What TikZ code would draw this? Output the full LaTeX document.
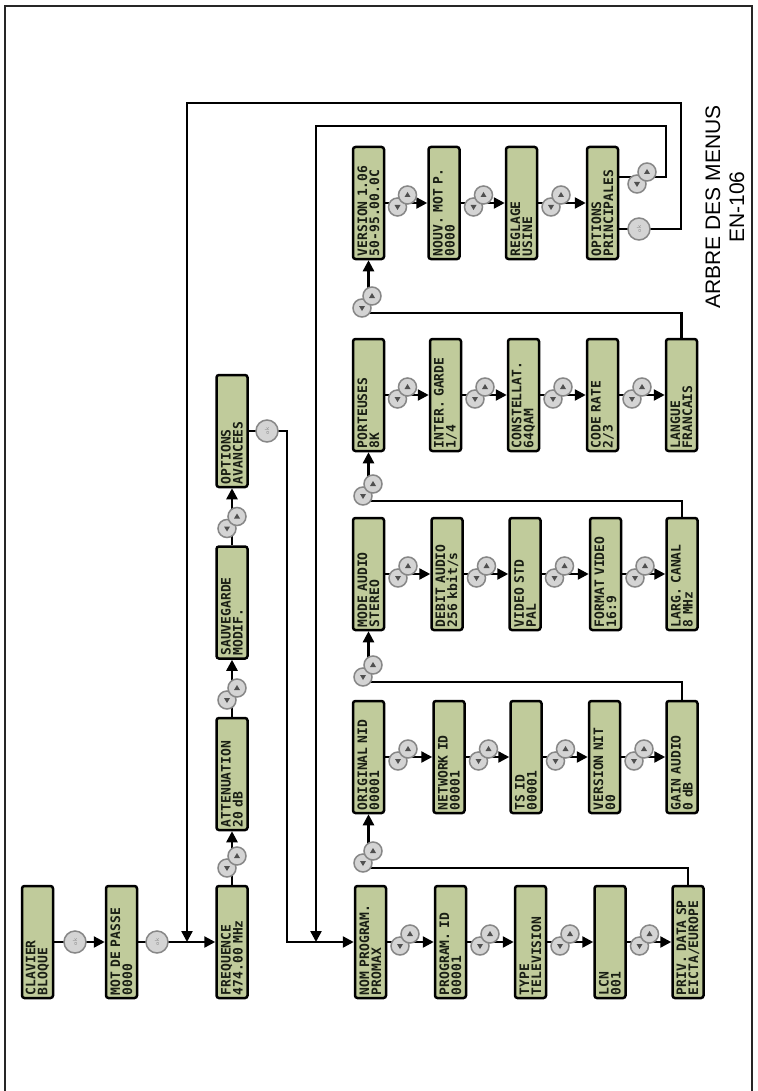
\documentclass[tikz,border=0pt]{standalone}
\usepackage{fontspec}
\usetikzlibrary{arrows.meta}
\newfontfamily\lcdfont{DejaVu Sans Mono}
\newfontfamily\titlefont{Liberation Sans}
\definecolor{lcdgreen}{RGB}{192,203,155}
\definecolor{btnfill}{RGB}{212,212,212}
\definecolor{btnedge}{RGB}{135,135,135}
\definecolor{trigray}{RGB}{80,80,80}
\definecolor{lcdtext}{RGB}{25,30,20}
\newcommand\bpair[3]{%
  \node[btn] (#1d) at (#2,#3) {};
  \fill[tri] ([shift={(-3,-2)}]#1d.center) -- ([shift={(3,-2)}]#1d.center) -- ([shift={(0,3)}]#1d.center) -- cycle;
  \node[btn] (#1u) at ({#2+10},{#3-12}) {};
  \fill[tri] ([shift={(-3,2)}]#1u.center) -- ([shift={(3,2)}]#1u.center) -- ([shift={(0,-3)}]#1u.center) -- cycle;
}
\begin{document}
\begin{tikzpicture}[x=1pt,y=-1pt,
  box/.style={rotate=90, draw=black, fill=lcdgreen, line width=2.5pt, rounded corners=2.5pt,
    minimum width=112pt, minimum height=31pt, text width=106pt, inner sep=0pt, align=left,
    text=lcdtext, font=\lcdfont\bfseries\fontsize{13}{12}\selectfont},
  btn/.style={circle, draw=btnedge, fill=btnfill, line width=1.5pt, minimum size=18pt, inner sep=0pt},
  okbtn/.style={btn, minimum size=22pt, rotate=90, font=\sffamily\fontsize{6}{6}\selectfont, text=btnedge},
  tri/.style={fill=trigray},
  conn/.style={line width=2.4pt, -{Triangle[length=11pt,width=11pt]}},
]
\useasboundingbox (0,0) rectangle (757,1091);
\clip (0,0) rectangle (757,1091);
\fill[white] (0,0) rectangle (757,1091);
\draw[line width=2.4pt, black!85] (5,1100) -- (5,6) -- (752,6) -- (752,1100);

% title
\node[rotate=90, align=center, font=\titlefont\fontsize{21}{24}\selectfont] (title) at (725,207) {ARBRE DES MENUS\\EN-106};

% main column
\node[box] (clav) at (37.5,942) {CLAVIER\\BLOQUE};
\node[box] (mot) at (121.5,942) {MOT DE PASSE\\0000};
\node[box] (freq) at (232,942) {FREQUENCE\\474.00 MHz};
\node[box] (atten) at (232,774) {ATTENUATION\\20 dB};
\node[box] (sauv) at (232,602.5) {SAUVEGARDE\\MODIF.};
\node[box] (optav) at (232,431) {OPTIONS\\AVANCEES};

% row 1
\node[box] (nom) at (370.5,942) {NOM PROGRAM.\\PROMAX};
\node[box] (prog) at (450.5,942) {PROGRAM. ID\\00001};
\node[box] (type) at (530.5,942) {TYPE\\TELEVISION};
\node[box] (lcn) at (610,942) {LCN\\001};
\node[box] (priv) at (688,942) {PRIV. DATA SP\\EICTA/EUROPE};
% row 2
\node[box] (orig) at (368.5,757) {ORIGINAL NID\\00001};
\node[box] (netid) at (449,757) {NETWORK ID\\00001};
\node[box] (tsid) at (526,757) {TS ID\\00001};
\node[box] (vnit) at (604.5,757) {VERSION NIT\\00};
\node[box] (gain) at (682,757) {GAIN AUDIO\\0 dB};
% row 3
\node[box] (mode) at (368.5,574) {MODE AUDIO\\STEREO};
\node[box] (debit) at (447,574) {DEBIT AUDIO\\256 kbit/s};
\node[box] (vstd) at (525,574) {VIDEO STD\\PAL};
\node[box] (fmt) at (605.5,574) {FORMAT VIDEO\\16:9};
\node[box] (larg) at (682,574) {LARG. CANAL\\8 MHz};
% row 4
\node[box] (port) at (368.5,395) {PORTEUSES\\8K};
\node[box] (inter) at (445.5,395) {INTER. GARDE\\1/4};
\node[box] (const) at (523.5,395) {CONSTELLAT.\\64QAM};
\node[box] (crate) at (602.5,395) {CODE RATE\\2/3};
\node[box] (lang) at (681.5,395) {LANGUE\\FRANCAIS};
% row 5
\node[box] (vers) at (368.5,203) {VERSION 1.06\\50-95.00.0C};
\node[box] (nouv) at (444,203) {NOUV. MOT P.\\0000};
\node[box] (regl) at (521.5,203) {REGLAGE\\USINE};
\node[box] (optp) at (602.5,203) {OPTIONS\\PRINCIPALES};

% connectors
\draw[conn] (clav.south) -- (mot.north);
\draw[conn] (mot.south) -- (freq.north);
\draw[conn] (freq.east) -- (atten.west);
\draw[conn] (atten.east) -- (sauv.west);
\draw[conn] (sauv.east) -- (optav.west);

\draw[conn] (nom.south) -- (prog.north);
\draw[conn] (prog.south) -- (type.north);
\draw[conn] (type.south) -- (lcn.north);
\draw[conn] (lcn.south) -- (priv.north);

\draw[conn] (orig.south) -- (netid.north);
\draw[conn] (netid.south) -- (tsid.north);
\draw[conn] (tsid.south) -- (vnit.north);
\draw[conn] (vnit.south) -- (gain.north);

\draw[conn] (mode.south) -- (debit.north);
\draw[conn] (debit.south) -- (vstd.north);
\draw[conn] (vstd.south) -- (fmt.north);
\draw[conn] (fmt.south) -- (larg.north);

\draw[conn] (port.south) -- (inter.north);
\draw[conn] (inter.south) -- (const.north);
\draw[conn] (const.south) -- (crate.north);
\draw[conn] (crate.south) -- (lang.north);

\draw[conn] (vers.south) -- (nouv.north);
\draw[conn] (nouv.south) -- (regl.north);
\draw[conn] (regl.south) -- (optp.north);

% loops between rows
\coordinate (l1) at (0,868);
\coordinate (l2) at (0,682);
\coordinate (l3) at (0,501);
\coordinate (l4) at (0,313);
\draw[conn] (priv.east) -- (priv.east |- l1) -| (orig.west);
\draw[conn] (gain.east) -- (gain.east |- l2) -| (mode.west);
\draw[conn] (larg.east) -- (larg.east |- l3) -| (port.west);
\draw[conn] (lang.east) -- (lang.east |- l4) -| (vers.west);

% return loops
\coordinate (r1) at (666,126);
\coordinate (r2) at (681,103);
\coordinate (j1) at (316,942);
\coordinate (j2) at (187,942);
\coordinate (j3) at (287,942);
\draw[conn] ([yshift=26pt]optp.south) -| (r1) -| (j1);
\draw[conn] ([yshift=-26pt]optp.south) -| (r2) -| (j2);
\draw[conn] (optav.south) -| (j3) -- (nom.north);

% ok buttons
\node[okbtn] (ok1) at (75,942) {ok};
\node[okbtn] (ok2) at (157,942) {ok};
\node[okbtn] (ok3) at (267,431) {ok};
\node[okbtn] (ok4) at (639,229) {ok};

% up/down pairs
\bpair{va}{227}{868}
\bpair{vb}{227}{700}
\bpair{vc}{227}{528.5}

\bpair{aa}{400}{946}
\bpair{ab}{480}{946}
\bpair{ac}{560}{946}
\bpair{ad}{639.5}{946}

\bpair{ba}{398}{761}
\bpair{bb}{478.5}{761}
\bpair{bc}{555.5}{761}
\bpair{bd}{634}{761}

\bpair{ca}{398}{578}
\bpair{cb}{476.5}{578}
\bpair{cc}{554.5}{578}
\bpair{cd}{635}{578}

\bpair{da}{397.5}{399}
\bpair{db}{475}{399}
\bpair{dc}{553}{399}
\bpair{dd}{632}{399}

\bpair{ea}{397.5}{207}
\bpair{eb}{473.5}{207}
\bpair{ec}{551}{207}

\bpair{la}{363}{863}
\bpair{lb}{363}{677}
\bpair{lc}{363}{496}
\bpair{ld}{362}{308}

\bpair{oa}{637}{184}
\end{tikzpicture}
\end{document}
